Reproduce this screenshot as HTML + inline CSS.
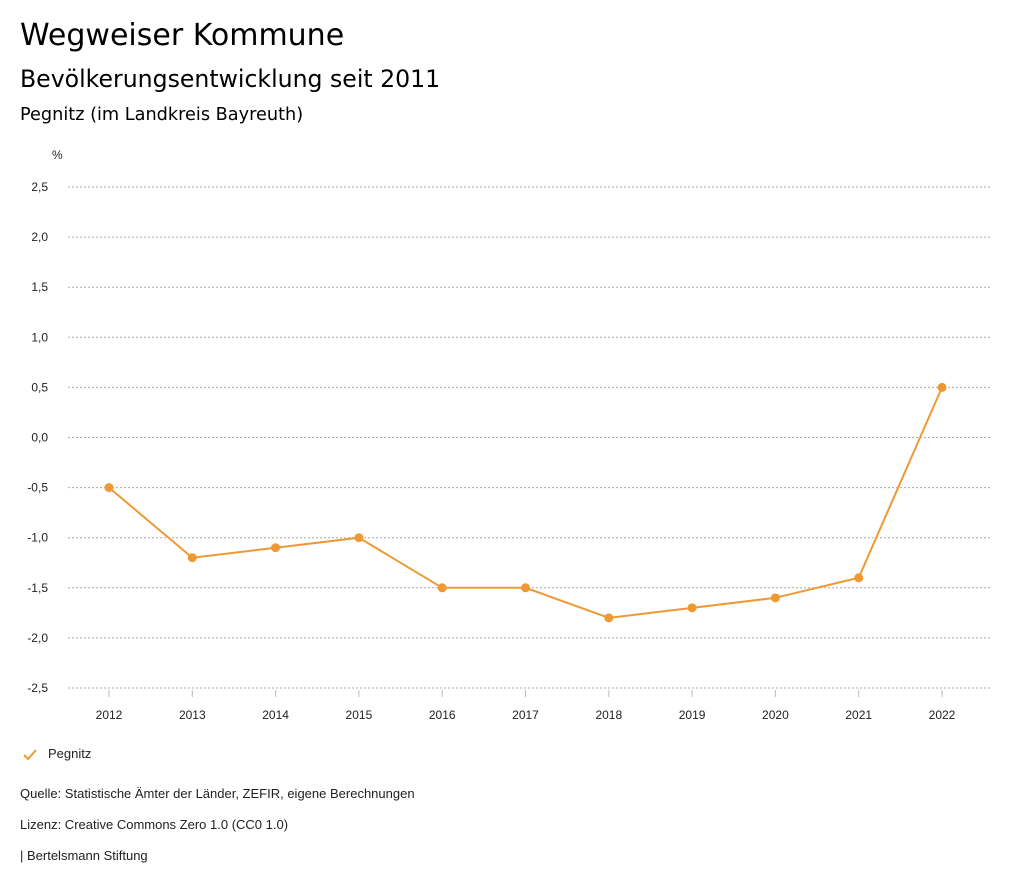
<!DOCTYPE html>
<html><head><meta charset="utf-8"><style>
body{margin:0;width:1024px;height:888px;background:#fff;font-family:"Liberation Sans",sans-serif;color:#000;overflow:hidden}
.t{position:absolute;left:20px;white-space:nowrap}
.d{font-family:"DejaVu Sans",sans-serif}
</style></head><body>
<div class="t d" style="top:18px;font-size:30px">Wegweiser Kommune</div>
<div class="t d" style="top:65px;font-size:23.6px">Bevölkerungsentwicklung seit 2011</div>
<div class="t d" style="top:105px;font-size:17.7px">Pegnitz (im Landkreis Bayreuth)</div>
<svg id="chart" width="1024" height="888" style="position:absolute;left:0;top:0"></svg>
<svg width="14" height="12" style="position:absolute;left:23px;top:749px"><polyline points="1,6 5,10 13,1" fill="none" stroke="#ee9933" stroke-width="2"/></svg>
<div class="t" style="left:48px;top:746px;font-size:13px;color:#222">Pegnitz</div>
<div class="t" style="top:786px;font-size:13px;color:#222">Quelle: Statistische Ämter der Länder, ZEFIR, eigene Berechnungen</div>
<div class="t" style="top:817px;font-size:13px;color:#222">Lizenz: Creative Commons Zero 1.0 (CC0 1.0)</div>
<div class="t" style="top:848px;font-size:13px;color:#222">| Bertelsmann Stiftung</div>
<script>
const years=["2012","2013","2014","2015","2016","2017","2018","2019","2020","2021","2022"];
const values=[-0.5,-1.2,-1.1,-1.0,-1.5,-1.5,-1.8,-1.7,-1.6,-1.4,0.5];
const yTicks=[2.5,2.0,1.5,1.0,0.5,0,-0.5,-1.0,-1.5,-2.0,-2.5];
const svg=document.getElementById('chart');
const NS='http://www.w3.org/2000/svg';
const x=i=>109+i*(942-109)/(years.length-1);
const y=v=>437.5-v*(688-187)/5;
function mk(t,a,p){const e=document.createElementNS(NS,t);for(const k in a)e.setAttribute(k,a[k]);(p||svg).appendChild(e);return e;}
let u=mk('text',{x:52,y:159,'font-size':12,fill:'#222'});u.textContent='%';


yTicks.forEach(v=>{
 const l=mk('line',{x1:68,x2:990,y1:y(v),y2:y(v),stroke:'#aaa','stroke-dasharray':'2,2'});
 
 
 const t=mk('text',{x:48,y:y(v)+4,'font-size':12,fill:'#222','text-anchor':'end'});
 t.textContent=v.toFixed(1).replace('.',',');
 
 
});
years.forEach((yr,i)=>{
 const l=mk('line',{x1:x(i),x2:x(i),y1:690,y2:697,stroke:'#bbb'});
 
 
 const t=mk('text',{x:x(i),y:719,'font-size':12,fill:'#222','text-anchor':'middle'});
 t.textContent=yr;
 
 
});
const p=mk('polyline',{points:values.map((v,i)=>x(i)+','+y(v)).join(' '),fill:'none',stroke:'#ee9933','stroke-width':2});


values.forEach((v,i)=>{
 const c=mk('circle',{cx:x(i),cy:y(v),r:4.5,fill:'#ee9933'});
 
 
});
</script>
</body></html>
